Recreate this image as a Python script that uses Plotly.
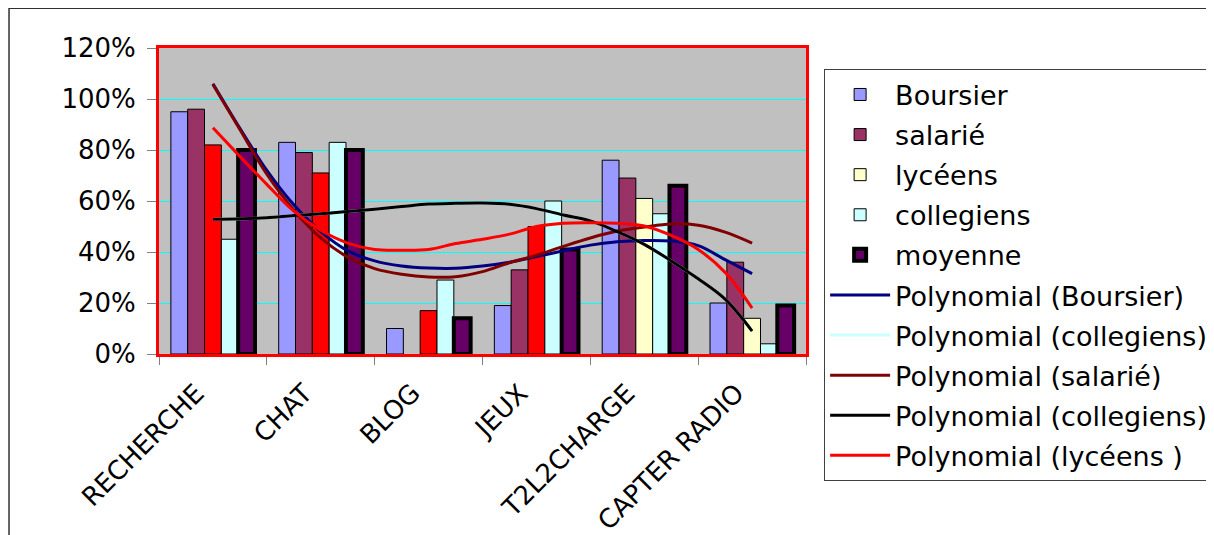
import plotly.graph_objects as go

# ---------------- data ----------------
categories = ["RECHERCHE", "CHAT", "BLOG", "JEUX", "T2L2CHARGE", "CAPTER RADIO"]
boursier = [0.95, 0.83, 0.10, 0.19, 0.76, 0.20]
salarie = [0.96, 0.79, None, 0.33, 0.69, 0.36]
lyceens = [0.82, 0.71, 0.17, 0.50, 0.61, 0.14]
lyceens_highlight = [True, True, True, True, False, False]   # points drawn in red
collegiens = [0.45, 0.83, 0.29, 0.60, 0.55, 0.04]
moyenne = [0.80, 0.80, 0.14, 0.41, 0.66, 0.19]

# trendline samples (category units)
trend_x = [0, 0.25, 0.5, 0.75, 1, 1.25, 1.5, 1.75, 2, 2.25, 2.5,
           2.75, 3, 3.25, 3.5, 3.75, 4, 4.25, 4.5, 4.75, 5]
poly_boursier = [1.06, 0.885, 0.72, 0.585, 0.48, 0.405, 0.365, 0.345, 0.337, 0.336, 0.345,
                 0.36, 0.382, 0.405, 0.427, 0.44, 0.445, 0.443, 0.425, 0.37, 0.315]
poly_salarie = [1.057, 0.88, 0.705, 0.565, 0.455, 0.38, 0.335, 0.313, 0.302, 0.303, 0.323,
                0.358, 0.387, 0.422, 0.455, 0.482, 0.498, 0.51, 0.505, 0.478, 0.435]
poly_lyceens = [0.887, 0.775, 0.665, 0.56, 0.485, 0.435, 0.41, 0.407, 0.41, 0.433, 0.45,
                0.47, 0.50, 0.513, 0.515, 0.513, 0.502, 0.465, 0.41, 0.32, 0.18]
poly_collegiens = [0.528, 0.53, 0.534, 0.543, 0.55, 0.559, 0.568, 0.578, 0.588, 0.591, 0.592,
                   0.587, 0.57, 0.545, 0.522, 0.48, 0.43, 0.365, 0.295, 0.215, 0.09]

y_ticks = [0, 0.2, 0.4, 0.6, 0.8, 1.0, 1.2]
y_ticktext = ["0%", "20%", "40%", "60%", "80%", "100%", "120%"]

# ---------------- figure ----------------
xpos = list(range(len(categories)))
FONT = "DejaVu Sans"
thin = dict(color="#000000", width=1)

fig = go.Figure()

fig.add_trace(go.Bar(x=xpos, y=boursier, name="Boursier", offsetgroup="b",
                     marker=dict(color="#9999FF", line=thin), legendgroup="g01"))
fig.add_trace(go.Bar(x=xpos, y=salarie, name="salarié", offsetgroup="s",
                     marker=dict(color="#993366", line=thin), legendgroup="g02"))
fig.add_trace(go.Bar(x=xpos, y=[None if h else v for v, h in zip(lyceens, lyceens_highlight)],
                     name="lycéens", offsetgroup="l",
                     marker=dict(color="#FFFFCC", line=thin), legendgroup="g03"))
fig.add_trace(go.Bar(x=xpos, y=[v if h else None for v, h in zip(lyceens, lyceens_highlight)],
                     name="lycéens", offsetgroup="l", showlegend=False,
                     marker=dict(color="#FF0000", line=thin), legendgroup="g03"))
fig.add_trace(go.Bar(x=xpos, y=collegiens, name="collegiens", offsetgroup="c",
                     marker=dict(color="#CCFFFF", line=thin), legendgroup="g04"))
fig.add_trace(go.Bar(x=xpos, y=moyenne, name="moyenne", offsetgroup="m",
                     marker=dict(color="#660066", line=dict(color="#000000", width=4)),
                     legendgroup="g05"))

def trend(y, name, color, grp):
    fig.add_trace(go.Scatter(x=trend_x, y=y, mode="lines", name=name,
                             line=dict(color=color, width=3, shape="spline"),
                             legendgroup=grp))

trend(poly_boursier, "Polynomial (Boursier)", "#000080", "g06")
trend(poly_collegiens, "Polynomial (collegiens)", "#CCFFFF", "g07")
trend(poly_salarie, "Polynomial (salarié)", "#800000", "g08")
trend(poly_collegiens, "Polynomial (collegiens)", "#000000", "g09")
trend(poly_lyceens, "Polynomial (lycéens )", "#FF0000", "g10")

# rotated category labels (as annotations so that their end sits left of the centre)
annotations = [
    dict(x=xi, y=0, xref="x", yref="paper", text=lab, showarrow=False,
         textangle=-45, xanchor="right", yanchor="top", xshift=0, yshift=-21,
         font=dict(family=FONT, size=26, color="#000000"))
    for xi, lab in zip(xpos, categories)
]

# the page adds an 8 px body margin, so the figure is 8 px smaller each way
fig.update_layout(
    width=1206, height=527,
    margin=dict(l=151, r=408, t=40, b=181, autoexpand=False),
    paper_bgcolor="#FFFFFF",
    plot_bgcolor="#C0C0C0",
    barmode="group",
    bargap=0.22,
    bargroupgap=0,
    font=dict(family=FONT, size=26, color="#000000"),
    legend=dict(x=1.028, y=0.93, xanchor="left", yanchor="top",
                bgcolor="#FFFFFF", bordercolor="#404040", borderwidth=1,
                font=dict(family=FONT, size=27, color="#000000"),
                tracegroupgap=2, itemwidth=60, traceorder="grouped",
                maxheight=480),
    xaxis=dict(range=[-0.5, 5.5], tickvals=xpos, showticklabels=False,
               ticks="", showgrid=False, zeroline=False, automargin=False,
               showline=True, linecolor="#FF0000", linewidth=3, mirror=True,
               minor=dict(tickvals=[-0.5, 0.5, 1.5, 2.5, 3.5, 4.5, 5.5],
                          ticks="outside", ticklen=8, tickcolor="#808080",
                          showgrid=False)),
    yaxis=dict(range=[0, 1.2], tickvals=y_ticks, ticktext=y_ticktext,
               ticks="outside", ticklen=9, tickcolor="#808080",
               showgrid=True, gridcolor="#00FFFF", gridwidth=1, zeroline=False,
               automargin=False,
               showline=True, linecolor="#FF0000", linewidth=3, mirror=True,
               ticklabelstandoff=6,
               tickfont=dict(family=FONT, size=26)),
    annotations=annotations,
    shapes=[dict(type="rect", xref="paper", yref="paper",
                 x0=-0.2318, x1=1.75, y0=-1.0, y1=1.13,
                 line=dict(color="#303030", width=1.5), fillcolor="rgba(0,0,0,0)",
                 layer="below")],
    showlegend=True,
)

fig.write_html("out.html")
